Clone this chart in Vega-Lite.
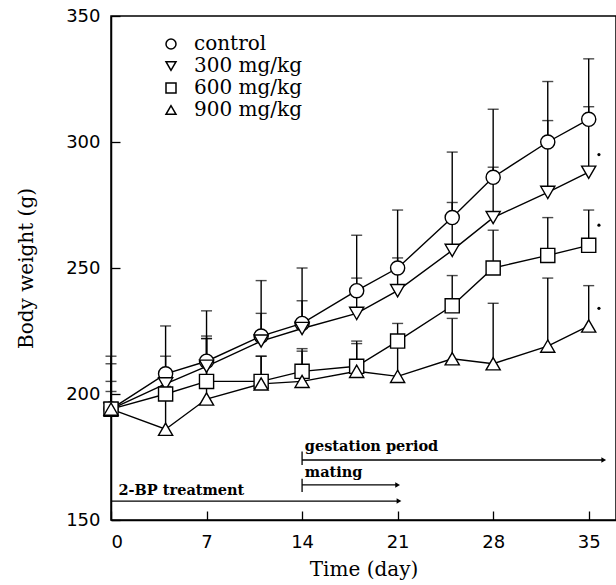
{
  "$schema": "https://vega.github.io/schema/vega-lite/v6.json",
  "width": 505,
  "height": 504,
  "autosize": "none",
  "padding": {"left": 111, "top": 16, "right": 0, "bottom": 65},
  "background": "white",
  "config": {
    "view": {"stroke": "black", "strokeWidth": 1.5},
    "axis": {
      "grid": false,
      "tickSize": -9,
      "tickColor": "black",
      "tickWidth": 1.3,
      "domainColor": "black",
      "domainWidth": 1.5,
      "labelFont": "DejaVu Sans",
      "labelFontSize": 18,
      "labelColor": "black",
      "titleFont": "DejaVu Serif",
      "titleFontSize": 20,
      "titleFontWeight": "normal",
      "titleColor": "black"
    }
  },
  "datasets": {
    "body": [
      {"day": 0, "group": "control", "mean": 194, "upper": 215},
      {"day": 4, "group": "control", "mean": 208, "upper": 227},
      {"day": 7, "group": "control", "mean": 213, "upper": 233},
      {"day": 11, "group": "control", "mean": 223, "upper": 245},
      {"day": 14, "group": "control", "mean": 228, "upper": 250},
      {"day": 18, "group": "control", "mean": 241, "upper": 263},
      {"day": 21, "group": "control", "mean": 250, "upper": 273},
      {"day": 25, "group": "control", "mean": 270, "upper": 296},
      {"day": 28, "group": "control", "mean": 286, "upper": 313},
      {"day": 32, "group": "control", "mean": 300, "upper": 324},
      {"day": 35, "group": "control", "mean": 309, "upper": 333},
      {"day": 0, "group": "300 mg/kg", "mean": 194, "upper": 212},
      {"day": 4, "group": "300 mg/kg", "mean": 204, "upper": 209},
      {"day": 7, "group": "300 mg/kg", "mean": 211, "upper": 223},
      {"day": 11, "group": "300 mg/kg", "mean": 221, "upper": 232},
      {"day": 14, "group": "300 mg/kg", "mean": 226, "upper": 237},
      {"day": 18, "group": "300 mg/kg", "mean": 232, "upper": 246},
      {"day": 21, "group": "300 mg/kg", "mean": 241, "upper": 254},
      {"day": 25, "group": "300 mg/kg", "mean": 257, "upper": 276},
      {"day": 28, "group": "300 mg/kg", "mean": 270, "upper": 290},
      {"day": 32, "group": "300 mg/kg", "mean": 280, "upper": 308.5},
      {"day": 35, "group": "300 mg/kg", "mean": 288, "upper": 314},
      {"day": 0, "group": "600 mg/kg", "mean": 194, "upper": 205},
      {"day": 4, "group": "600 mg/kg", "mean": 200, "upper": 203},
      {"day": 7, "group": "600 mg/kg", "mean": 205, "upper": 222},
      {"day": 11, "group": "600 mg/kg", "mean": 205, "upper": 215},
      {"day": 14, "group": "600 mg/kg", "mean": 209, "upper": 218},
      {"day": 18, "group": "600 mg/kg", "mean": 211, "upper": 221},
      {"day": 21, "group": "600 mg/kg", "mean": 221, "upper": 228},
      {"day": 25, "group": "600 mg/kg", "mean": 235, "upper": 247},
      {"day": 28, "group": "600 mg/kg", "mean": 250, "upper": 265},
      {"day": 32, "group": "600 mg/kg", "mean": 255, "upper": 270},
      {"day": 35, "group": "600 mg/kg", "mean": 259, "upper": 273},
      {"day": 0, "group": "900 mg/kg", "mean": 194, "upper": 201},
      {"day": 4, "group": "900 mg/kg", "mean": 186, "upper": 215},
      {"day": 7, "group": "900 mg/kg", "mean": 198, "upper": 222},
      {"day": 11, "group": "900 mg/kg", "mean": 204, "upper": 215},
      {"day": 14, "group": "900 mg/kg", "mean": 205, "upper": 217},
      {"day": 18, "group": "900 mg/kg", "mean": 209, "upper": 220},
      {"day": 21, "group": "900 mg/kg", "mean": 207, "upper": 220},
      {"day": 25, "group": "900 mg/kg", "mean": 214, "upper": 230},
      {"day": 28, "group": "900 mg/kg", "mean": 212, "upper": 236},
      {"day": 32, "group": "900 mg/kg", "mean": 219, "upper": 246},
      {"day": 35, "group": "900 mg/kg", "mean": 227, "upper": 243}
    ],
    "stars": [
      {"day": 35.75, "v": 295},
      {"day": 35.75, "v": 267},
      {"day": 35.75, "v": 234}
    ],
    "arrows": [
      {"name": "gestation period", "x1": 14, "x2": 36.1, "v": 173.8, "tlo": 171.8, "thi": 177.2, "tx": 14.2, "tv": 177.5},
      {"name": "mating", "x1": 14, "x2": 21, "v": 163.9, "tlo": 161.1, "thi": 166.4, "tx": 14.2, "tv": 167.2},
      {"name": "2-BP treatment", "x1": 0, "x2": 21.1, "v": 157.5, "tlo": 157.5, "thi": 157.5, "tx": 0.55, "tv": 159.9}
    ]
  },
  "layer": [
    {
      "data": {"name": "body"},
      "mark": {"type": "line", "color": "black", "strokeWidth": 1.4},
      "encoding": {
        "x": {"field": "day", "type": "quantitative",
              "scale": {"domain": [0, 37], "nice": false, "zero": false},
              "axis": {"title": "Time (day)", "values": [0, 7, 14, 21, 28, 35], "labelPadding": 22, "titlePadding": 8}},
        "y": {"field": "mean", "type": "quantitative",
              "scale": {"domain": [150, 350], "nice": false, "zero": false},
              "axis": {"title": "Body weight (g)", "values": [150, 200, 250, 300, 350], "labelPadding": 20, "titlePadding": 29}},
        "detail": {"field": "group"}
      }
    },
    {
      "data": {"name": "body"},
      "mark": {"type": "rule", "color": "black", "strokeWidth": 1.4},
      "encoding": {
        "x": {"field": "day", "type": "quantitative"},
        "y": {"field": "mean", "type": "quantitative"},
        "y2": {"field": "upper"},
        "detail": {"field": "group"}
      }
    },
    {
      "data": {"name": "body"},
      "mark": {"type": "tick", "orient": "horizontal", "color": "black", "size": 11, "thickness": 1.4},
      "encoding": {
        "x": {"field": "day", "type": "quantitative"},
        "y": {"field": "upper", "type": "quantitative"},
        "detail": {"field": "group"}
      }
    },
    {
      "data": {"name": "body"},
      "mark": {"type": "point", "filled": false, "fill": "white", "fillOpacity": 1, "stroke": "black", "strokeWidth": 1.4, "size": 200, "opacity": 1},
      "encoding": {
        "x": {"field": "day", "type": "quantitative"},
        "y": {"field": "mean", "type": "quantitative"},
        "shape": {"field": "group", "type": "nominal",
                  "scale": {"domain": ["control", "300 mg/kg", "600 mg/kg", "900 mg/kg"],
                            "range": ["circle", "triangle-down", "square", "triangle-up"]},
                  "legend": {"title": null, "orient": "none", "legendX": 50, "legendY": 18,
                             "padding": 0, "rowPadding": 2, "symbolSize": 100,
                             "labelFont": "DejaVu Serif", "labelFontSize": 20, "labelColor": "black",
                             "labelOffset": 13,
                             "encode": {"symbols": {"update": {
                               "stroke": {"value": "black"},
                               "fill": {"value": "white"},
                               "strokeWidth": {"value": 1.3},
                               "opacity": {"value": 1},
                               "fillOpacity": {"value": 1},
                               "strokeOpacity": {"value": 1}}}}}}
      }
    },
    {
      "data": {"name": "stars"},
      "mark": {"type": "point", "filled": true, "color": "black", "size": 10, "opacity": 1},
      "encoding": {
        "x": {"field": "day", "type": "quantitative"},
        "y": {"field": "v", "type": "quantitative"}
      }
    },
    {
      "data": {"name": "arrows"},
      "mark": {"type": "rule", "color": "black", "strokeWidth": 1.3},
      "encoding": {
        "x": {"field": "x1", "type": "quantitative"},
        "x2": {"field": "x2"},
        "y": {"field": "v", "type": "quantitative"}
      }
    },
    {
      "data": {"name": "arrows"},
      "mark": {"type": "rule", "color": "black", "strokeWidth": 1.3},
      "encoding": {
        "x": {"field": "x1", "type": "quantitative"},
        "y": {"field": "tlo", "type": "quantitative"},
        "y2": {"field": "thi"}
      }
    },
    {
      "data": {"name": "arrows"},
      "mark": {"type": "point", "shape": "triangle-right", "filled": true, "color": "black", "size": 30, "opacity": 1},
      "encoding": {
        "x": {"field": "x2", "type": "quantitative"},
        "y": {"field": "v", "type": "quantitative"}
      }
    },
    {
      "data": {"name": "arrows"},
      "mark": {"type": "text", "align": "left", "baseline": "alphabetic", "font": "DejaVu Serif", "fontSize": 14.5, "fontWeight": "bold", "color": "black"},
      "encoding": {
        "x": {"field": "tx", "type": "quantitative"},
        "y": {"field": "tv", "type": "quantitative"},
        "text": {"field": "name"}
      }
    }
  ]
}
